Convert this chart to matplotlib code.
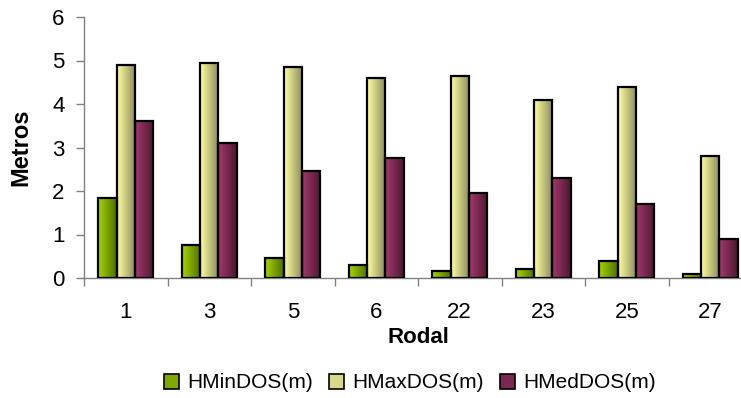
import numpy as np
import matplotlib
matplotlib.use("Agg")
import matplotlib.pyplot as plt
from matplotlib.colors import LinearSegmentedColormap
from matplotlib.patches import Patch

rodales = ["1", "3", "5", "6", "22", "23", "25", "27"]
hmin = [1.85, 0.75, 0.45, 0.3, 0.15, 0.2, 0.4, 0.1]
hmax = [4.9, 4.95, 4.85, 4.6, 4.65, 4.1, 4.4, 2.8]
hmed = [3.6, 3.1, 2.45, 2.75, 1.95, 2.3, 1.7, 0.9]
series_names = ["HMinDOS(m)", "HMaxDOS(m)", "HMedDOS(m)"]

# gradient colours: light side (left) -> dark side (right)
gradients = [("#a6d400", "#4f7000"),
             ("#ffffa0", "#8a8a5c"),
             ("#a3386e", "#4e1830")]
legend_colors = ["#7fa800", "#d8d88a", "#7a2850"]

plt.rcParams["font.family"] = ["Liberation Sans", "DejaVu Sans"]

fig = plt.figure(figsize=(7.41, 3.98), dpi=100)
ax = fig.add_axes([84 / 741, 1 - 278 / 398, 668 / 741, 261 / 398])

x = np.arange(len(rodales))
w = 0.22
grad = np.linspace(0, 1, 64).reshape(1, -1)

for i, vals in enumerate([hmin, hmax, hmed]):
    cmap = LinearSegmentedColormap.from_list("g%d" % i, gradients[i])
    bars = ax.bar(x + (i - 1) * w, vals, w, facecolor="none",
                  edgecolor="black", linewidth=1.6, zorder=3)
    for b in bars:
        im = ax.imshow(grad, cmap=cmap, aspect="auto", zorder=2,
                       extent=[b.get_x(), b.get_x() + b.get_width(),
                               0, b.get_height()])
        im.set_clip_path(b)

ax.set_xlim(-0.5, len(rodales) - 0.5)
ax.set_ylim(0, 6)
ax.set_yticks(range(7))
ax.set_xticks(x)
ax.set_xticklabels(rodales)
ax.set_xticks(np.arange(len(rodales) + 1) - 0.5, minor=True)
ax.tick_params(axis="x", which="major", length=0, pad=17, labelsize=16)
ax.tick_params(axis="x", which="minor", length=6, color="#808080", width=1)
ax.tick_params(axis="y", length=6, color="#808080", width=1, labelsize=16, pad=8)

for s in ["top", "right"]:
    ax.spines[s].set_visible(False)
for s in ["left", "bottom"]:
    ax.spines[s].set_color("#808080")
    ax.spines[s].set_linewidth(1)

ax.set_xlabel("Rodal", fontsize=16, fontweight="bold", labelpad=3)
ax.set_ylabel("Metros", fontsize=17, fontweight="bold", labelpad=14)

handles = [Patch(facecolor=legend_colors[i], edgecolor="black", linewidth=1.2)
           for i in range(3)]
fig.legend(handles, series_names, loc="center", bbox_to_anchor=(410 / 741, 1 - 383 / 398),
           ncol=3, frameon=False, fontsize=15, handlelength=0.7, handleheight=0.7,
           handletextpad=0.4, columnspacing=0.8)

fig.savefig("out.png", dpi=100)
